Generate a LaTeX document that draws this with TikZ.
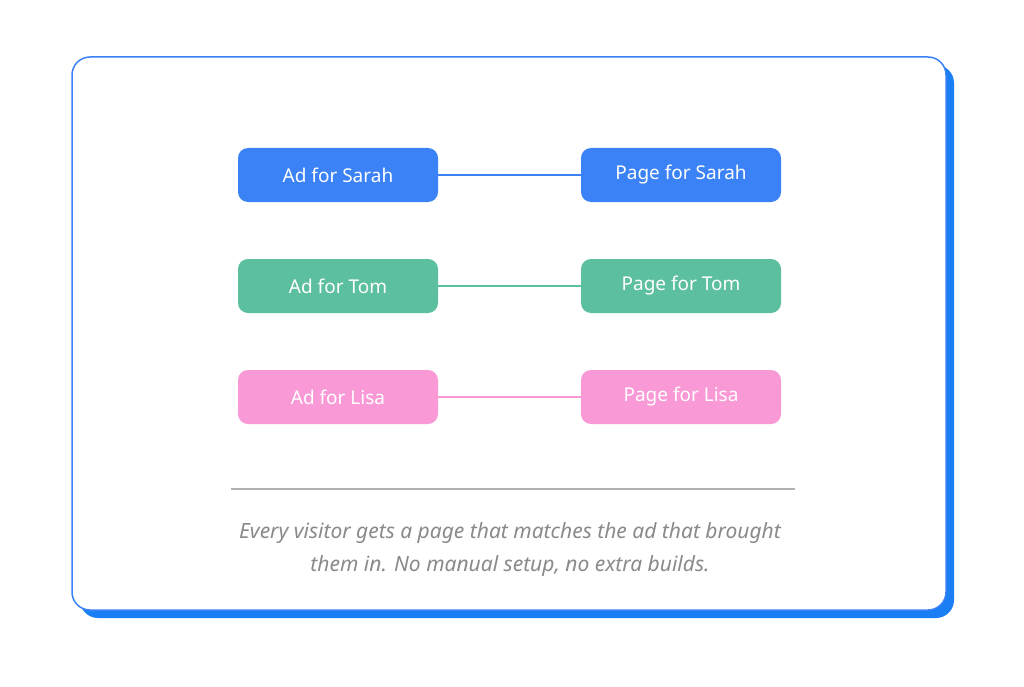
\documentclass[tikz,border=0pt]{standalone}
\usepackage{fontspec}
\setmainfont{Noto Sans}
\definecolor{cblue}{HTML}{3B82F6}
\definecolor{cshadow}{HTML}{1A7FF5}
\definecolor{cgreen}{HTML}{5CBF9F}
\definecolor{cpink}{HTML}{F99AD6}
\definecolor{ctext}{HTML}{8A8A8A}
\begin{document}
\begin{tikzpicture}[x=1pt,y=-1pt,
  box/.style={rounded corners=10pt,minimum width=200pt,minimum height=54pt,text=white,font=\fontsize{19}{22}\selectfont,inner sep=0pt},
  link/.style={line width=1.2pt}]
\useasboundingbox (0,0) rectangle (1024,687);
\fill[white] (0,0) rectangle (1024,687);
\fill[cshadow,rounded corners=18pt] (80,65) rectangle (954,618);
\draw[cblue,fill=white,line width=1.5pt,rounded corners=18pt] (72,57) rectangle (946,610);
\foreach \n/\l/\r/\y/\c in {s/Sarah/Sarah/175/cblue,t/Tom/Tom/286/cgreen,l/Lisa/Lisa/397/cpink}{
  \node[box,fill=\c] (a\n) at (338,\y) {Ad for \l};
  \node[box,fill=\c] (p\n) at (681,\y) {Page for \r};
  \draw[link,\c] (a\n) -- (p\n);
}
\coordinate (d1) at (231,489); \coordinate (d2) at (795,489);
\draw[black!30,line width=1.2pt] (d1) -- (d2);
\node[text=ctext,font=\itshape\fontsize{21}{33}\selectfont,align=center] (cap) at (510,550) {Every visitor gets a page that matches the ad that brought\\them in. No manual setup, no extra builds.};
\end{tikzpicture}
\end{document}
